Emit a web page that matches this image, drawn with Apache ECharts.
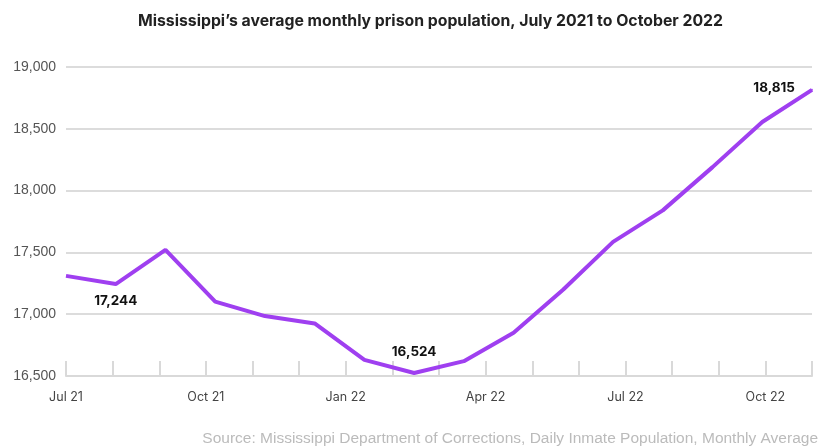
<!DOCTYPE html>
<html>
<head>
<meta charset="utf-8">
<script src="https://cdn.jsdelivr.net/npm/echarts@6/dist/echarts.min.js"></script>
<style>
  html, body { margin: 0; padding: 0; background: #fff; }
  #chart { width: 825px; height: 448px; }
</style>
</head>
<body>
<div id="chart"></div>
<script>
// Monthly average prison population, July 2021 – October 2022
const months = ['Jul 21','Aug 21','Sep 21','Oct 21','Nov 21','Dec 21','Jan 22','Feb 22',
                'Mar 22','Apr 22','May 22','Jun 22','Jul 22','Aug 22','Sep 22','Oct 22'];
const population = [17310, 17244, 17520, 17102, 16985, 16925, 16630, 16524,
                    16620, 16850, 17200, 17585, 17840, 18190, 18555, 18815];
// Month ticks along the bottom axis (one extra step past the last month)
const tickMonths = ['Jul 21','Aug 21','Sep 21','Oct 21','Nov 21','Dec 21','Jan 22','Feb 22',
                    'Mar 22','Apr 22','May 22','Jun 22','Jul 22','Aug 22','Sep 22','Oct 22','Nov 22'];
const labelledTicks = ['Jul 21','Oct 21','Jan 22','Apr 22','Jul 22','Oct 22'];
// Points that carry a value label, and where the label sits
const labelled = { 1: 'bottom', 7: 'top', 15: 'left' };

const chart = echarts.init(document.getElementById('chart'));

const fmt = v => v.toLocaleString('en-US');
const lineColor = '#9f3ff0';

// Tiny markers (hidden under the line) that carry the value labels
const labelPoints = Object.keys(labelled).map(k => {
  const i = Number(k);
  const pos = labelled[i];
  const label = { show: true, position: pos, formatter: p => fmt(p.value[1]) };
  if (pos === 'bottom') label.distance = 9;
  else if (pos === 'top') label.distance = 13;
  else { label.distance = 16; label.offset = [0, -2]; }
  return { value: [months[i], population[i]], label };
});

chart.setOption({
  animation: false,
  title: {
    text: 'Mississippi\u2019s average monthly prison population, July 2021 to October 2022',
    left: 133, top: 8,
    textStyle: { fontFamily: 'Inter', fontWeight: 'bold', fontSize: 15.8, color: '#222' }
  },
  graphic: [{
    type: 'text', right: 7, top: 431,
    style: {
      text: 'Source: Mississippi Department of Corrections, Daily Inmate Population, Monthly Average',
      fontFamily: 'Liberation Sans', fontSize: 15.5, fill: '#bbb'
    }
  }],
  grid: { left: 66, right: 13, top: 67, bottom: 72 },
  xAxis: [
    {
      type: 'category', data: tickMonths, boundaryGap: false, position: 'bottom',
      axisLine: { show: true, lineStyle: { color: '#d9d9d9', width: 2 } },
      axisTick: { show: true, inside: true, length: 15, interval: 0,
                  lineStyle: { color: '#d9d9d9', width: 2 } },
      axisLabel: {
        interval: 0, margin: 15,
        formatter: v => labelledTicks.includes(v) ? v : '',
        fontFamily: 'Inter', fontSize: 12.5, color: '#444'
      },
      splitLine: { show: false }
    },
    {
      type: 'category', data: months, boundaryGap: false, position: 'bottom',
      show: false
    }
  ],
  yAxis: {
    type: 'value', min: 16500, max: 19000, interval: 500,
    axisLine: { show: false }, axisTick: { show: false },
    axisLabel: {
      margin: 10, fontFamily: 'Liberation Sans', fontSize: 14, color: '#555',
      formatter: fmt
    },
    splitLine: { lineStyle: { color: '#dcdcdc', width: 2 } }
  },
  series: [
    {
      type: 'line', xAxisIndex: 1, data: population,
      showSymbol: false, smooth: false,
      lineStyle: { color: lineColor, width: 4 },
      itemStyle: { color: lineColor }
    },
    {
      type: 'scatter', xAxisIndex: 1, data: labelPoints,
      symbolSize: 2, itemStyle: { color: lineColor },
      silent: true, z: 1,
      label: { fontFamily: 'Inter', fontWeight: 'bold', fontSize: 13.5, color: '#111', opacity: 1 }
    }
  ]
});
</script>
</body>
</html>
